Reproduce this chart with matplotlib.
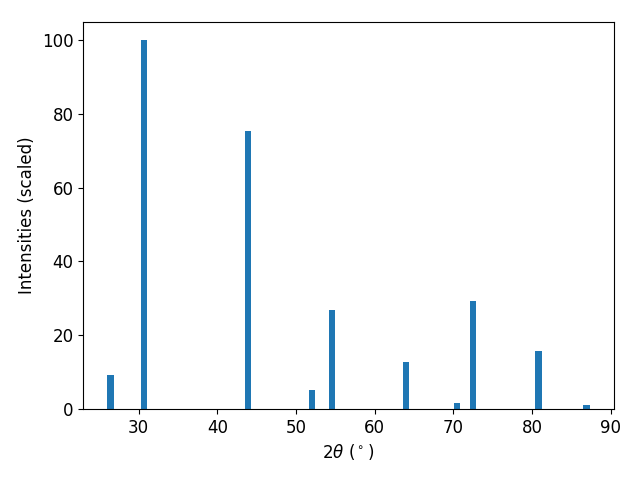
import matplotlib
matplotlib.use("Agg")
import matplotlib.pyplot as plt

# 回折ピーク位置と強度
two_theta = [26.41, 30.63, 43.88, 52.00, 54.56, 63.94, 70.45, 72.54, 80.84, 86.93]
intensity = [9.2, 100.0, 75.4, 5.2, 26.9, 12.6, 1.6, 29.3, 15.7, 1.1]

plt.rcParams["font.size"] = 12

fig, ax = plt.subplots(figsize=(6.4, 4.8), dpi=100)
ax.bar(two_theta, intensity, width=0.8)
ax.set_xlabel(r"$2\theta$ ($^\circ$)")
ax.set_ylabel("Intensities (scaled)")
fig.subplots_adjust(left=0.130, right=0.959, top=0.955, bottom=0.148)
fig.savefig("out.png")
